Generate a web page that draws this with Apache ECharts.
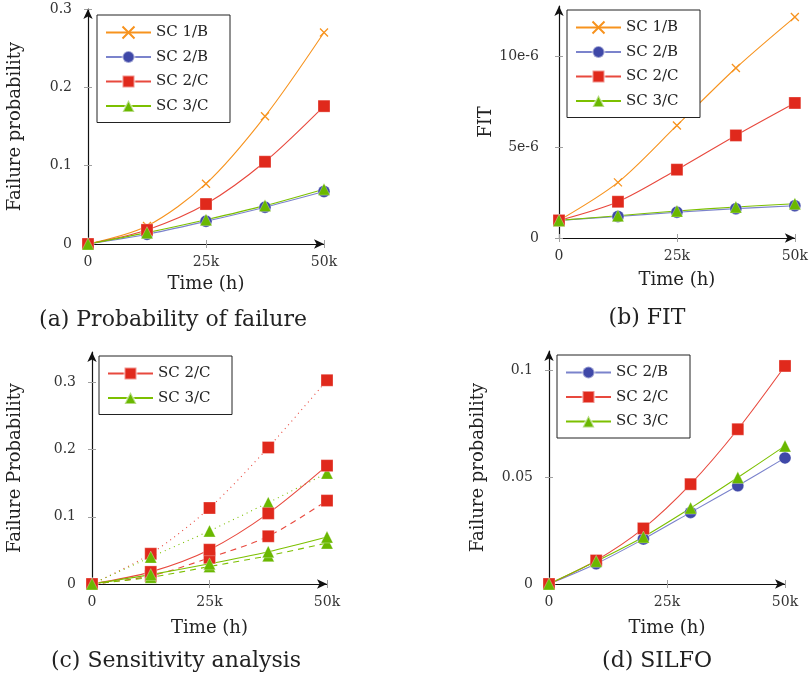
<!DOCTYPE html>
<html>
<head>
<meta charset="utf-8">
<script src="https://cdn.jsdelivr.net/npm/echarts@6/dist/echarts.min.js"></script>
<style>
  html, body { margin: 0; padding: 0; background: #fff; }
  #main { width: 811px; height: 676px; }
</style>
</head>
<body>
<div id="main"></div>
<script>
// time points (h)
const timeQuarter = [0, 12500, 25000, 37500, 50000];
const timeTenth = [0, 10000, 20000, 30000, 40000, 50000];

// (a) probability of failure
const probSC1B = [0, 0.023, 0.077, 0.163, 0.270];
const probSC2B = [0, 0.0124, 0.029, 0.047, 0.067];
const probSC2C = [0, 0.018, 0.051, 0.105, 0.176];
const probSC3C = [0, 0.0145, 0.031, 0.049, 0.070];

// (b) FIT
const fitSC1B = [0.97e-6, 3.07e-6, 6.21e-6, 9.38e-6, 12.19e-6];
const fitSC2B = [0.97e-6, 1.19e-6, 1.42e-6, 1.62e-6, 1.78e-6];
const fitSC2C = [0.97e-6, 2.0e-6, 3.77e-6, 5.66e-6, 7.45e-6];
const fitSC3C = [0.97e-6, 1.23e-6, 1.49e-6, 1.71e-6, 1.89e-6];

// (c) sensitivity analysis
const sensSC2C = [0, 0.018, 0.051, 0.105, 0.176];
const sensSC2CHigh = [0, 0.045, 0.113, 0.203, 0.303];
const sensSC2CLow = [0, 0.012, 0.039, 0.071, 0.124];
const sensSC3C = [0, 0.014, 0.030, 0.048, 0.070];
const sensSC3CHigh = [0, 0.040, 0.079, 0.121, 0.165];
const sensSC3CLow = [0, 0.010, 0.026, 0.042, 0.061];

// (d) SILFO
const silSC2B = [0, 0.0095, 0.021, 0.0335, 0.046, 0.059];
const silSC2C = [0, 0.011, 0.026, 0.0467, 0.0724, 0.102];
const silSC3C = [0, 0.0106, 0.022, 0.0355, 0.0498, 0.0646];

// ticks
const xTickVals = [0, 25000, 50000];
const xTickText = ["0", "25k", "50k"];
const yTickValsA = [0, 0.1, 0.2, 0.3];
const yTickTextA = ["0", "0.1", "0.2", "0.3"];
const yTickValsB = [0, 5e-6, 10e-6];
const yTickTextB = ["0", "5e-6", "10e-6"];
const yTickValsC = [0, 0.1, 0.2, 0.3];
const yTickTextC = ["0", "0.1", "0.2", "0.3"];
const yTickValsD = [0, 0.05, 0.1];
const yTickTextD = ["0", "0.05", "0.1"];

const captions = ["(a) Probability of failure", "(b) FIT", "(c) Sensitivity analysis", "(d) SILFO"];

const FONT = "DejaVu Serif";
const orange = "#f7931e";
const blueMark = "#3f48a8";
const blueLine = "#7b83cc";
const red = "#e0291c";
const redLine = "#e8493e";
const green = "#6ab800";
const greenLine = "#7cc000";

const crossPath = "path://M0,0L10,10M10,0L0,10";

const pairs = (xs, ys) => xs.map((x, i) => [x, ys[i]]);
const labelOf = (vals, texts) => (v) => {
  const i = vals.findIndex((t) => Math.abs(t - v) < 1e-12);
  return i < 0 ? "" : texts[i];
};

const styles = {
  "SC 1/B": { symbol: crossPath, symbolSize: 8, line: orange, mark: orange },
  "SC 2/B": { symbol: "circle", symbolSize: 12, line: blueLine, mark: blueMark },
  "SC 2/C": { symbol: "rect", symbolSize: 12, line: redLine, mark: red },
  "SC 3/C": { symbol: "triangle", symbolSize: 12, line: greenLine, mark: green },
};

function line(name, grid, data, type = "solid", label) {
  const s = styles[name];
  return {
    name: label || name,
    type: "line",
    xAxisIndex: grid * 2,
    yAxisIndex: grid * 2,
    data: data,
    smooth: 0.3,
    symbol: s.symbol,
    symbolSize: s.symbolSize,
    showAllSymbol: true,
    lineStyle: { color: s.line, width: 1.1, type: type === "dotted" ? [1, 4] : type === "dashed" ? [6, 5] : "solid" },
    itemStyle: {
      color: s.mark,
      borderColor: s.symbol === crossPath ? s.mark : "rgba(255,255,255,0.5)",
      borderWidth: s.symbol === crossPath ? 1.3 : 0.6,
    },
    emphasis: { disabled: true },
    z: 3,
  };
}

const grids = [
  { left: 88, top: 9, width: 236, height: 235 },
  { left: 559, top: 6, width: 236, height: 232 },
  { left: 92, top: 352, width: 235, height: 232 },
  { left: 549, top: 351, width: 236, height: 233 },
];
const yMax = [0.3, 12.8e-6, 0.345, 0.109];
const yVals = [yTickValsA, yTickValsB, yTickValsC, yTickValsD];
const yTexts = [yTickTextA, yTickTextB, yTickTextC, yTickTextD];
const yNames = ["Failure probability", "FIT", "Failure Probability", "Failure probability"];
const yNameGap = [64, 62, 68, 62];
const yLabelMargin = [16, 20, 16, 16];
const xNameGap = [31, 33, 35, 35];

const tickStyle = { lineStyle: { color: "#a0a0a0", width: 1 } };
const xAxes = [];
const yAxes = [];
grids.forEach((g, i) => {
  xAxes.push({
    type: "value", gridIndex: i, min: 0, max: 50000,
    name: "Time (h)", nameLocation: "middle", nameGap: xNameGap[i],
    nameTextStyle: { fontFamily: FONT, fontSize: 18, color: "#222" },
    splitLine: { show: false },
    axisLine: { lineStyle: { color: "#111", width: 1.2 }, symbol: ["none", "arrow"], symbolSize: [7, 10] },
    axisTick: { length: 4, customValues: xTickVals, ...tickStyle },
    axisLabel: { customValues: xTickVals, formatter: labelOf(xTickVals, xTickText), fontFamily: FONT, fontSize: 14, color: "#333", margin: 11 },
  });
  xAxes.push({
    type: "value", gridIndex: i, min: 0, max: 50000, position: "bottom",
    splitLine: { show: false }, axisLine: { show: false }, axisLabel: { show: false },
    axisTick: { inside: true, length: 4, customValues: xTickVals, ...tickStyle },
  });
  yAxes.push({
    type: "value", gridIndex: i, min: 0, max: yMax[i],
    name: yNames[i], nameLocation: "middle", nameGap: yNameGap[i], nameRotate: 90,
    nameTextStyle: { fontFamily: FONT, fontSize: 18, color: "#222" },
    splitLine: { show: false },
    axisLine: { show: true, lineStyle: { color: "#111", width: 1.2 }, symbol: ["none", "arrow"], symbolSize: [7, 10] },
    axisTick: { show: true, length: 4, customValues: yVals[i], ...tickStyle },
    axisLabel: { customValues: yVals[i], formatter: labelOf(yVals[i], yTexts[i]), fontFamily: FONT, fontSize: 14, color: "#333", margin: yLabelMargin[i] },
  });
  yAxes.push({
    type: "value", gridIndex: i, min: 0, max: yMax[i], position: "left",
    splitLine: { show: false }, axisLine: { show: false }, axisLabel: { show: false },
    axisTick: { show: true, inside: true, length: 4, customValues: yVals[i], ...tickStyle },
  });
});

const series = [
  line("SC 1/B", 0, pairs(timeQuarter, probSC1B)),
  line("SC 2/B", 0, pairs(timeQuarter, probSC2B)),
  line("SC 2/C", 0, pairs(timeQuarter, probSC2C)),
  line("SC 3/C", 0, pairs(timeQuarter, probSC3C)),

  line("SC 1/B", 1, pairs(timeQuarter, fitSC1B)),
  line("SC 2/B", 1, pairs(timeQuarter, fitSC2B)),
  line("SC 2/C", 1, pairs(timeQuarter, fitSC2C)),
  line("SC 3/C", 1, pairs(timeQuarter, fitSC3C)),

  line("SC 2/C", 2, pairs(timeQuarter, sensSC2CHigh), "dotted", "SC 2/C high"),
  line("SC 2/C", 2, pairs(timeQuarter, sensSC2CLow), "dashed", "SC 2/C low"),
  line("SC 3/C", 2, pairs(timeQuarter, sensSC3CHigh), "dotted", "SC 3/C high"),
  line("SC 3/C", 2, pairs(timeQuarter, sensSC3CLow), "dashed", "SC 3/C low"),
  line("SC 2/C", 2, pairs(timeQuarter, sensSC2C)),
  line("SC 3/C", 2, pairs(timeQuarter, sensSC3C)),

  line("SC 2/B", 3, pairs(timeTenth, silSC2B)),
  line("SC 2/C", 3, pairs(timeTenth, silSC2C)),
  line("SC 3/C", 3, pairs(timeTenth, silSC3C)),
];

const legendBase = {
  orient: "vertical",
  itemWidth: 45,
  itemHeight: 15,
  itemGap: 9.5,
  padding: [10, 16, 9, 8],
  borderColor: "#222",
  borderWidth: 1,
  backgroundColor: "#fff",
  selectedMode: false,
  textStyle: { fontFamily: FONT, fontSize: 15, color: "#222", lineHeight: 15, width: 58 },
  z: 10,
};
const legends = [
  { ...legendBase, left: 97, top: 15, data: ["SC 1/B", "SC 2/B", "SC 2/C", "SC 3/C"] },
  { ...legendBase, left: 567, top: 10, data: ["SC 1/B", "SC 2/B", "SC 2/C", "SC 3/C"] },
  { ...legendBase, left: 99, top: 356, data: ["SC 2/C", "SC 3/C"] },
  { ...legendBase, left: 557, top: 355, data: ["SC 2/B", "SC 2/C", "SC 3/C"] },
];

const captionPos = [[173, 320], [647, 318], [176, 661], [657, 661]];
const graphic = captions.map((t, i) => ({
  type: "text",
  x: captionPos[i][0],
  y: captionPos[i][1],
  style: { text: t, fontFamily: FONT, fontSize: 22, fill: "#222", align: "center", verticalAlign: "middle" },
}));

const chart = echarts.init(document.getElementById("main"), null, { renderer: "canvas" });
chart.setOption({
  animation: false,
  backgroundColor: "#fff",
  grid: grids,
  xAxis: xAxes,
  yAxis: yAxes,
  legend: legends,
  graphic: graphic,
  series: series,
});
</script>
</body>
</html>
